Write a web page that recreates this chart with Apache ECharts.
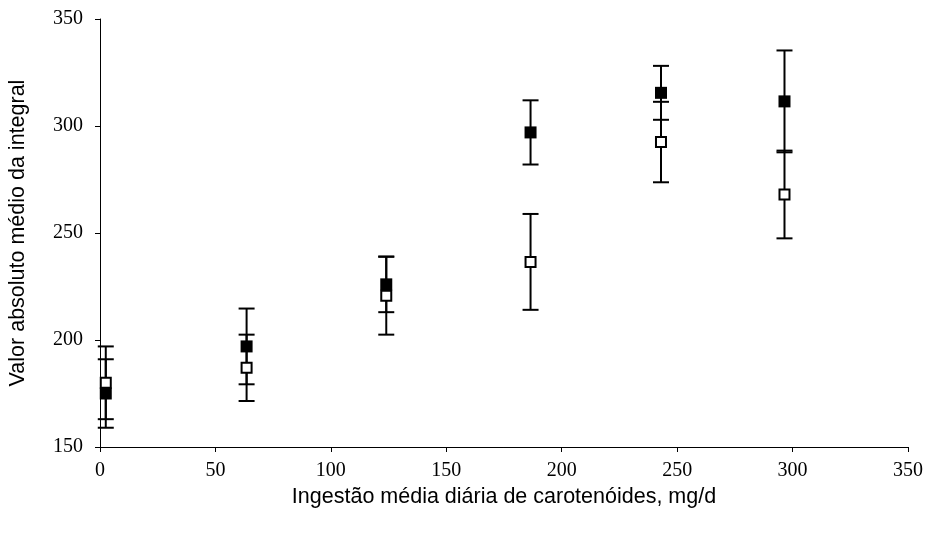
<!DOCTYPE html>
<html>
<head>
<meta charset="utf-8">
<script src="https://cdn.jsdelivr.net/npm/echarts@6.0.0/dist/echarts.min.js"></script>
<style>
  html, body { margin: 0; padding: 0; background: #fff; }
  #chart { width: 927px; height: 535px; }
</style>
</head>
<body>
<div id="chart"></div>
<script>
// Mean daily carotenoid intake (mg/d)
const intake = [2.5, 63.5, 124, 186.5, 243, 296.5];

// Series A (filled squares): mean absolute integral value and its error
const meanFilled = [175, 197, 226, 297, 315.5, 311.5];
const errFilled  = [16, 17.7, 13, 15, 12.6, 23.8];

// Series B (open squares): mean absolute integral value and its error
const meanOpen = [180, 187, 220.7, 236.5, 292.5, 268];
const errOpen  = [17, 15.5, 18.2, 22.4, 18.8, 20.5];

const xTicks = [0, 50, 100, 150, 200, 250, 300, 350];
const yTicks = [150, 200, 250, 300, 350];

const serif = 'Liberation Serif';
const sans = 'Liberation Sans';

function errorData(means, errs) {
  return intake.map((x, i) => [x, means[i] - errs[i], means[i] + errs[i]]);
}

function renderErrorBar(params, api) {
  const x = api.value(0);
  const lo = api.coord([x, api.value(1)]);
  const hi = api.coord([x, api.value(2)]);
  const half = 8;
  const style = { stroke: '#000', lineWidth: 2, fill: null };
  return {
    type: 'group',
    children: [
      { type: 'line', shape: { x1: lo[0], y1: lo[1], x2: hi[0], y2: hi[1] }, style },
      { type: 'line', shape: { x1: hi[0] - half, y1: hi[1], x2: hi[0] + half, y2: hi[1] }, style },
      { type: 'line', shape: { x1: lo[0] - half, y1: lo[1], x2: lo[0] + half, y2: lo[1] }, style }
    ]
  };
}

const chart = echarts.init(document.getElementById('chart'), null, { renderer: 'canvas' });

chart.setOption({
  backgroundColor: '#fff',
  animation: false,
  grid: { left: 100, right: 19, top: 19, bottom: 88, containLabel: false, outerBoundsMode: 'none' },
  xAxis: {
    type: 'value',
    min: xTicks[0],
    max: xTicks[xTicks.length - 1],
    interval: 50,
    name: 'Ingestão média diária de carotenóides, mg/d',
    nameLocation: 'middle',
    nameGap: 37,
    nameTextStyle: { fontFamily: sans, fontSize: 21.5, color: '#000' },
    axisLine: { lineStyle: { color: '#000', width: 1 } },
    axisTick: { inside: false, length: 5, lineStyle: { color: '#000' } },
    axisLabel: { fontFamily: serif, fontSize: 20, color: '#000', margin: 14 },
    splitLine: { show: false }
  },
  yAxis: {
    type: 'value',
    min: yTicks[0],
    max: yTicks[yTicks.length - 1],
    interval: 50,
    name: 'Valor absoluto médio da integral',
    nameLocation: 'middle',
    nameGap: 71,
    nameTextStyle: { fontFamily: sans, fontSize: 21.5, color: '#000' },
    axisLine: { show: true, lineStyle: { color: '#000', width: 1 } },
    axisTick: { show: true, inside: false, length: 5, lineStyle: { color: '#000' } },
    axisLabel: { fontFamily: serif, fontSize: 20, color: '#000', margin: 17 },
    splitLine: { show: false }
  },
  series: [
    {
      type: 'custom',
      renderItem: renderErrorBar,
      data: errorData(meanOpen, errOpen),
      encode: { x: 0, y: [1, 2] },
      z: 1
    },
    {
      type: 'custom',
      renderItem: renderErrorBar,
      data: errorData(meanFilled, errFilled),
      encode: { x: 0, y: [1, 2] },
      z: 1
    },
    {
      type: 'scatter',
      symbol: 'rect',
      symbolSize: 10,
      data: intake.map((x, i) => [x, meanOpen[i]]),
      itemStyle: { color: '#fff', borderColor: '#000', borderWidth: 2, opacity: 1 },
      z: 3
    },
    {
      type: 'scatter',
      symbol: 'rect',
      symbolSize: 12,
      data: intake.map((x, i) => [x, meanFilled[i]]),
      itemStyle: { color: '#000', borderColor: '#000', borderWidth: 0, opacity: 1 },
      z: 4
    }
  ]
});
</script>
</body>
</html>
